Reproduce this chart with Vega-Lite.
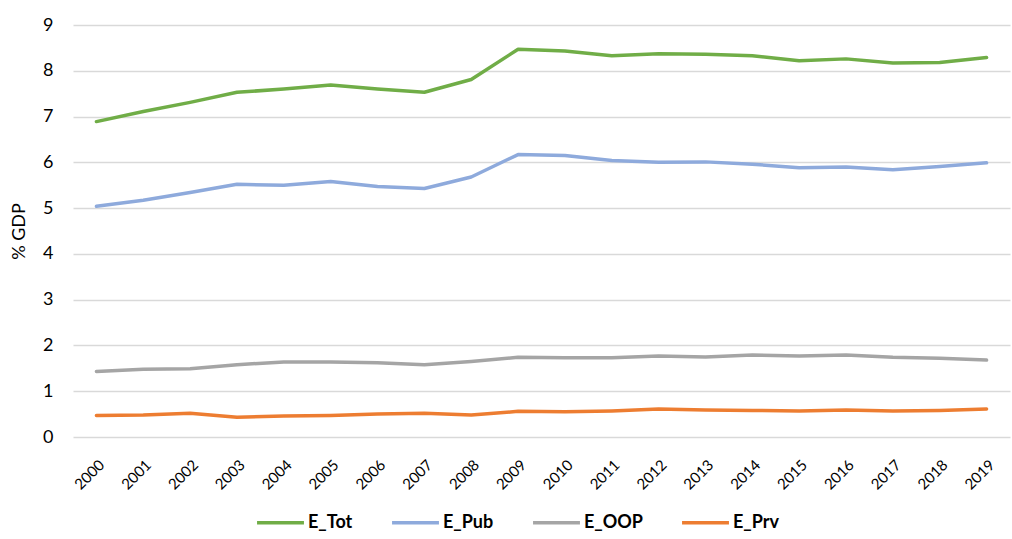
{
  "$schema": "https://vega.github.io/schema/vega-lite/v6.json",
  "width": 937,
  "height": 412,
  "autosize": {"type": "none"},
  "padding": {"left": 73, "top": 25, "right": 2, "bottom": 102},
  "background": "white",
  "config": {
    "view": {"stroke": null},
    "font": "Lato"
  },
  "data": {
    "values": [
      {"year": "2000", "series": "E_Tot", "value": 6.89},
      {"year": "2001", "series": "E_Tot", "value": 7.11},
      {"year": "2002", "series": "E_Tot", "value": 7.31},
      {"year": "2003", "series": "E_Tot", "value": 7.53},
      {"year": "2004", "series": "E_Tot", "value": 7.60},
      {"year": "2005", "series": "E_Tot", "value": 7.69},
      {"year": "2006", "series": "E_Tot", "value": 7.60},
      {"year": "2007", "series": "E_Tot", "value": 7.53},
      {"year": "2008", "series": "E_Tot", "value": 7.81},
      {"year": "2009", "series": "E_Tot", "value": 8.47},
      {"year": "2010", "series": "E_Tot", "value": 8.43},
      {"year": "2011", "series": "E_Tot", "value": 8.33},
      {"year": "2012", "series": "E_Tot", "value": 8.37},
      {"year": "2013", "series": "E_Tot", "value": 8.36},
      {"year": "2014", "series": "E_Tot", "value": 8.33},
      {"year": "2015", "series": "E_Tot", "value": 8.22},
      {"year": "2016", "series": "E_Tot", "value": 8.26},
      {"year": "2017", "series": "E_Tot", "value": 8.17},
      {"year": "2018", "series": "E_Tot", "value": 8.18},
      {"year": "2019", "series": "E_Tot", "value": 8.29},
      {"year": "2000", "series": "E_Pub", "value": 5.04},
      {"year": "2001", "series": "E_Pub", "value": 5.17},
      {"year": "2002", "series": "E_Pub", "value": 5.34},
      {"year": "2003", "series": "E_Pub", "value": 5.52},
      {"year": "2004", "series": "E_Pub", "value": 5.50},
      {"year": "2005", "series": "E_Pub", "value": 5.58},
      {"year": "2006", "series": "E_Pub", "value": 5.47},
      {"year": "2007", "series": "E_Pub", "value": 5.43},
      {"year": "2008", "series": "E_Pub", "value": 5.68},
      {"year": "2009", "series": "E_Pub", "value": 6.17},
      {"year": "2010", "series": "E_Pub", "value": 6.15},
      {"year": "2011", "series": "E_Pub", "value": 6.04},
      {"year": "2012", "series": "E_Pub", "value": 6.00},
      {"year": "2013", "series": "E_Pub", "value": 6.01},
      {"year": "2014", "series": "E_Pub", "value": 5.96},
      {"year": "2015", "series": "E_Pub", "value": 5.88},
      {"year": "2016", "series": "E_Pub", "value": 5.90},
      {"year": "2017", "series": "E_Pub", "value": 5.84},
      {"year": "2018", "series": "E_Pub", "value": 5.91},
      {"year": "2019", "series": "E_Pub", "value": 5.99},
      {"year": "2000", "series": "E_OOP", "value": 1.43},
      {"year": "2001", "series": "E_OOP", "value": 1.48},
      {"year": "2002", "series": "E_OOP", "value": 1.49},
      {"year": "2003", "series": "E_OOP", "value": 1.58},
      {"year": "2004", "series": "E_OOP", "value": 1.64},
      {"year": "2005", "series": "E_OOP", "value": 1.64},
      {"year": "2006", "series": "E_OOP", "value": 1.62},
      {"year": "2007", "series": "E_OOP", "value": 1.58},
      {"year": "2008", "series": "E_OOP", "value": 1.65},
      {"year": "2009", "series": "E_OOP", "value": 1.74},
      {"year": "2010", "series": "E_OOP", "value": 1.73},
      {"year": "2011", "series": "E_OOP", "value": 1.73},
      {"year": "2012", "series": "E_OOP", "value": 1.77},
      {"year": "2013", "series": "E_OOP", "value": 1.75},
      {"year": "2014", "series": "E_OOP", "value": 1.79},
      {"year": "2015", "series": "E_OOP", "value": 1.77},
      {"year": "2016", "series": "E_OOP", "value": 1.79},
      {"year": "2017", "series": "E_OOP", "value": 1.74},
      {"year": "2018", "series": "E_OOP", "value": 1.72},
      {"year": "2019", "series": "E_OOP", "value": 1.68},
      {"year": "2000", "series": "E_Prv", "value": 0.47},
      {"year": "2001", "series": "E_Prv", "value": 0.48},
      {"year": "2002", "series": "E_Prv", "value": 0.52},
      {"year": "2003", "series": "E_Prv", "value": 0.43},
      {"year": "2004", "series": "E_Prv", "value": 0.46},
      {"year": "2005", "series": "E_Prv", "value": 0.47},
      {"year": "2006", "series": "E_Prv", "value": 0.50},
      {"year": "2007", "series": "E_Prv", "value": 0.52},
      {"year": "2008", "series": "E_Prv", "value": 0.48},
      {"year": "2009", "series": "E_Prv", "value": 0.56},
      {"year": "2010", "series": "E_Prv", "value": 0.55},
      {"year": "2011", "series": "E_Prv", "value": 0.57},
      {"year": "2012", "series": "E_Prv", "value": 0.61},
      {"year": "2013", "series": "E_Prv", "value": 0.59},
      {"year": "2014", "series": "E_Prv", "value": 0.58},
      {"year": "2015", "series": "E_Prv", "value": 0.57},
      {"year": "2016", "series": "E_Prv", "value": 0.59},
      {"year": "2017", "series": "E_Prv", "value": 0.57},
      {"year": "2018", "series": "E_Prv", "value": 0.58},
      {"year": "2019", "series": "E_Prv", "value": 0.61}
    ]
  },
  "mark": {"type": "line", "strokeWidth": 3.5, "strokeCap": "round", "strokeJoin": "round"},
  "encoding": {
    "x": {
      "field": "year",
      "type": "ordinal",
      "scale": {"type": "point", "padding": 0.5},
      "axis": {
        "title": null,
        "labelAngle": -45,
        "labelFontSize": 15,
        "labelColor": "#000000",
        "labelPadding": 20,
        "domain": false,
        "ticks": false,
        "grid": false
      }
    },
    "y": {
      "field": "value",
      "type": "quantitative",
      "scale": {"domain": [0, 9], "nice": false},
      "axis": {
        "title": "% GDP",
        "titleFontSize": 18,
        "titleFontWeight": "normal",
        "titleColor": "#000000",
        "titlePadding": 14,
        "values": [0, 1, 2, 3, 4, 5, 6, 7, 8, 9],
        "labelFontSize": 18,
        "labelColor": "#000000",
        "labelPadding": 20,
        "domain": false,
        "ticks": false,
        "grid": true,
        "gridColor": "#d9d9d9",
        "gridWidth": 1.3
      }
    },
    "color": {
      "field": "series",
      "type": "nominal",
      "sort": ["E_Tot", "E_Pub", "E_OOP", "E_Prv"],
      "scale": {
        "domain": ["E_Tot", "E_Pub", "E_OOP", "E_Prv"],
        "range": ["#70ad47", "#8eaadc", "#a5a5a5", "#ed7d31"]
      },
      "legend": {
        "title": null,
        "orient": "none",
        "direction": "horizontal",
        "legendX": 182,
        "legendY": 472,
        "symbolType": "stroke",
        "symbolSize": 2200,
        "symbolStrokeWidth": 3.5,
        "labelFontSize": 18,
        "labelFontWeight": "bold",
        "labelColor": "#000000",
        "labelOffset": 2,
        "columnPadding": 32
      }
    }
  }
}
